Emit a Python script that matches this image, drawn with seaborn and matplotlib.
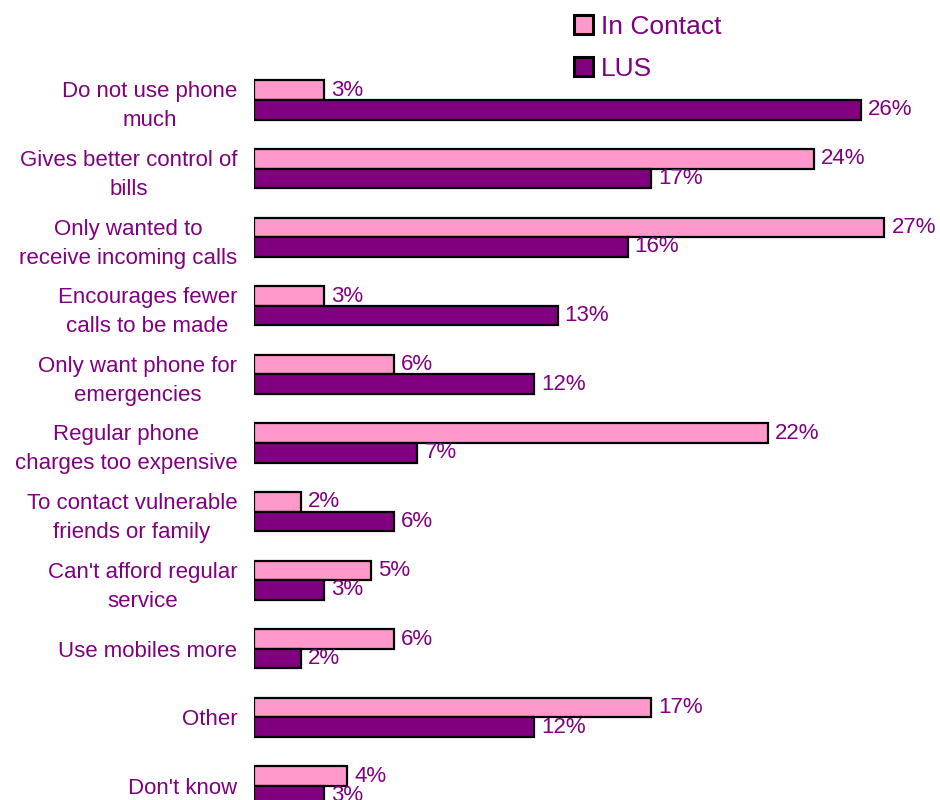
import matplotlib
matplotlib.use("Agg")
import matplotlib.pyplot as plt
import seaborn as sns
import pandas as pd
from matplotlib.patches import Patch

# Reasons for choosing the service, share of respondents (%)
categories = [
    "Do not use phone\nmuch",
    "Gives better control of\nbills",
    "Only wanted to\nreceive incoming calls",
    "Encourages fewer\ncalls to be made",
    "Only want phone for\nemergencies",
    "Regular phone\ncharges too expensive",
    "To contact vulnerable\nfriends or family",
    "Can't afford regular\nservice",
    "Use mobiles more",
    "Other",
    "Don't know",
]
series_names = ["In Contact", "LUS"]
in_contact = [3, 24, 27, 3, 6, 22, 2, 5, 6, 17, 4]
lus = [26, 17, 16, 13, 12, 7, 6, 3, 2, 12, 3]

colors = {"In Contact": "#FF99CC", "LUS": "#800080"}
text_color = "#800080"

df = pd.DataFrame({
    "Reason": categories * 2,
    "Series": [series_names[0]] * len(categories) + [series_names[1]] * len(categories),
    "Percent": in_contact + lus,
})

sns.set_theme(style="white")
plt.rcParams["font.family"] = ["Liberation Sans", "DejaVu Sans"]

fig = plt.figure(figsize=(9.4, 8.0), dpi=100)
ax = fig.add_axes([254 / 940, 0.0, 1 - 254 / 940, 1.0])

sns.barplot(
    data=df, x="Percent", y="Reason", hue="Series", order=categories,
    hue_order=series_names, palette=colors, orient="h", width=0.57,
    edgecolor="black", linewidth=1.6, saturation=1, legend=False, ax=ax,
)

for container in ax.containers:
    ax.bar_label(container, fmt="%d%%", padding=5, fontsize=16, color=text_color)

ax.set_xlim(0, (940 - 254) / 23.35)
ax.set_ylim((800 - 100) / 68.6, -100 / 68.6)
ax.set_xlabel("")
ax.set_ylabel("")
ax.set_xticks([])
ax.tick_params(axis="y", length=0, pad=12, labelsize=16, labelcolor=text_color)
for lbl in ax.get_yticklabels():
    lbl.set_multialignment("center")
    lbl.set_linespacing(1.5)
for side in ["top", "right", "bottom", "left"]:
    ax.spines[side].set_visible(False)

handles = [Patch(facecolor=colors[s], edgecolor="black", linewidth=2.2, label=s)
           for s in series_names]
leg = fig.legend(
    handles=handles, loc="upper left", bbox_to_anchor=(563 / 940, 1 - 4 / 800),
    frameon=False, fontsize=19, handlelength=0.75, handleheight=0.75,
    handletextpad=0.3, labelspacing=0.7, borderaxespad=0,
)
for t in leg.get_texts():
    t.set_color(text_color)

fig.savefig("out.png", dpi=100)
